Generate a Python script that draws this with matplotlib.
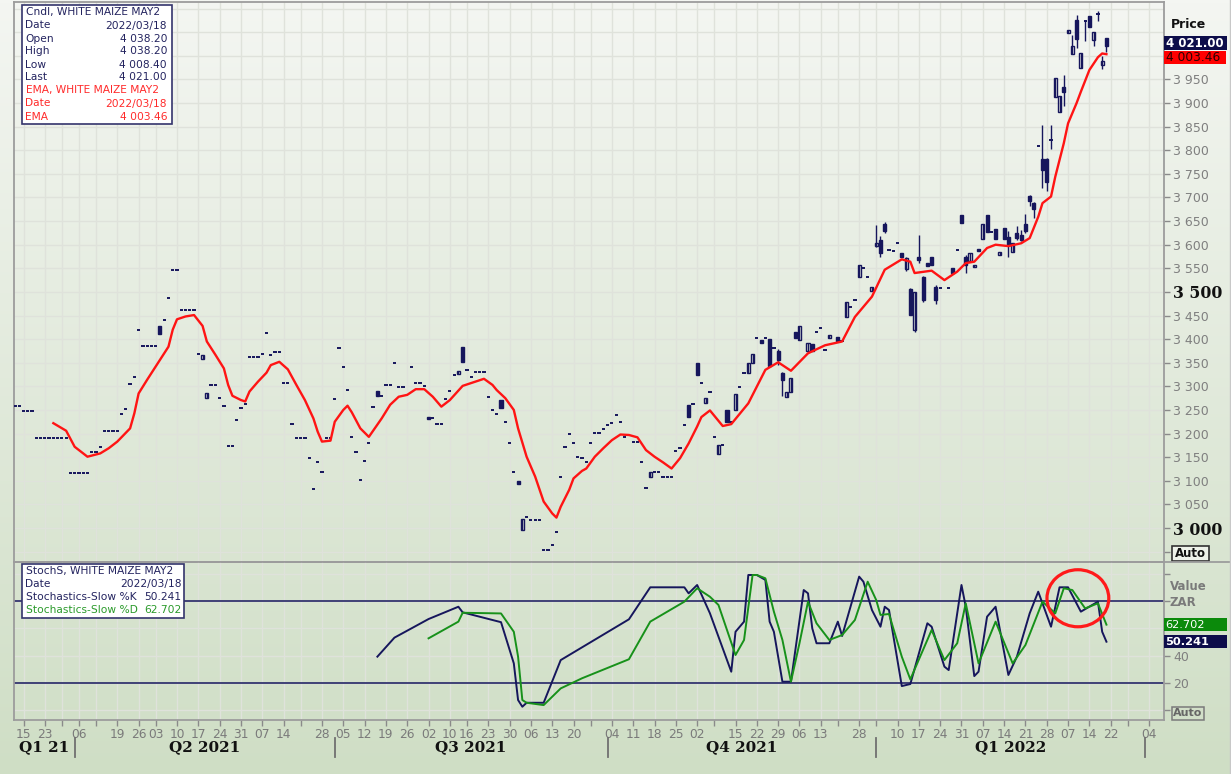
import numpy as np
import pandas as pd
import matplotlib
matplotlib.use("Agg")
import matplotlib.pyplot as plt
from matplotlib.patches import Rectangle, Ellipse
from matplotlib.transforms import blended_transform_factory

# --- calendar (SAFEX trading days, day 0 = first day on chart) ---
first_day = "2021-03-11"
holidays = ["2021-03-22", "2021-04-02", "2021-04-05", "2021-04-27", "2021-06-16",
            "2021-08-09", "2021-09-24", "2021-11-01", "2021-12-16", "2021-12-27",
            "2022-03-21", "2022-04-15", "2022-04-18"]
unlabelled_weeks = ["2021-03-29", "2021-04-12", "2021-06-21", "2021-09-27",
                    "2021-11-08", "2021-12-20", "2022-01-03", "2022-03-28"]
quarter_names = ["Q1 21", "Q2 2021", "Q3 2021", "Q4 2021", "Q1 2022"]

# --- no-range days (open = high = low = close) ---
dash_day = [0, 1, 2, 3, 4, 5, 6, 7, 8, 9, 10, 11, 12, 13, 14, 15, 16, 17, 18, 19,
            20, 21, 22, 23, 24, 25, 26, 27, 28, 29, 30, 31, 32, 33, 35, 36, 37, 38,
            39, 40, 41, 42, 43, 46, 47, 48, 49, 50, 51, 52, 53, 54, 55, 56, 57, 58,
            59, 60, 61, 62, 63, 64, 65, 66, 67, 68, 69, 70, 71, 72, 73, 74, 75, 76,
            77, 78, 79, 80, 81, 82, 83, 84, 86, 87, 88, 89, 90, 91, 93, 94, 95, 96,
            98, 99, 100, 101, 102, 103, 106, 107, 108, 109, 110, 111, 112, 113, 115,
            116, 117, 120, 121, 122, 123, 124, 125, 126, 127, 128, 129, 130, 131, 132,
            133, 134, 135, 136, 137, 138, 139, 140, 141, 142, 143, 145, 146, 147, 148,
            150, 151, 152, 153, 154, 155, 156, 157, 159, 161, 163, 164, 166, 168, 170,
            171, 174, 176, 178, 188, 189, 190, 194, 196, 197, 199, 200, 205, 206, 207,
            217, 219, 221, 229, 240]
dash_px = [3258, 3258, 3248, 3248, 3248, 3191, 3191, 3191, 3191, 3191, 3191, 3191, 3191,
           3117, 3117, 3117, 3117, 3117, 3162, 3162, 3172, 3206, 3206, 3206, 3206, 3242,
           3252, 3304, 3320, 3419, 3386, 3386, 3386, 3386, 3441, 3487, 3547, 3547, 3461,
           3461, 3461, 3461, 3368, 3303, 3303, 3276, 3259, 3174, 3174, 3229, 3255, 3263,
           3362, 3362, 3362, 3368, 3412, 3367, 3372, 3372, 3307, 3307, 3220, 3190, 3190,
           3190, 3148, 3083, 3139, 3119, 3190, 3190, 3273, 3382, 3342, 3292, 3193, 3162,
           3102, 3142, 3179, 3257, 3280, 3303, 3303, 3349, 3298, 3298, 3340, 3308, 3308,
           3301, 3234, 3220, 3220, 3273, 3290, 3324, 3335, 3319, 3330, 3330, 3330, 3278,
           3250, 3242, 3225, 3179, 3118, 3024, 3018, 3018, 3018, 2953, 2953, 2964, 2991,
           3107, 3171, 3200, 3179, 3151, 3148, 3139, 3181, 3202, 3202, 3209, 3218, 3223,
           3239, 3225, 3193, 3182, 3182, 3139, 3085, 3118, 3118, 3107, 3107, 3107, 3163,
           3170, 3218, 3263, 3308, 3289, 3192, 3176, 3225, 3298, 3329, 3402, 3403, 3381,
           3416, 3424, 3377, 3395, 3467, 3483, 3550, 3531, 3589, 3587, 3603, 3508, 3508,
           3589, 3626, 3808]

# --- candles ---
cdl_day = [34, 44, 45, 85, 97, 104, 105, 114, 118, 119, 149, 158, 160, 162, 165, 167,
           169, 172, 173, 175, 177, 179, 180, 181, 182, 183, 184, 186, 187, 191, 193,
           195, 198, 201, 202, 203, 204, 208, 209, 210, 211, 212, 213, 214, 215, 216,
           220, 222, 223, 224, 225, 226, 227, 228, 230, 231, 232, 233, 234, 235, 236,
           237, 238, 239, 241, 242, 243, 244, 245, 246, 247, 248, 249, 250, 251, 252,
           253, 254, 255, 256]
cdl_open = [3427, 3358, 3275, 3290, 3236, 3326, 3383, 3271, 3099, 2996, 3107, 3261, 3349,
            3264, 3156, 3249, 3249, 3328, 3349, 3398, 3400, 3374, 3328, 3277, 3287, 3416,
            3398, 3374, 3390, 3403, 3405, 3447, 3531, 3501, 3598, 3611, 3644, 3582, 3548,
            3506, 3419, 3574, 3531, 3561, 3573, 3510, 3550, 3663, 3575, 3565, 3552, 3590,
            3613, 3663, 3633, 3578, 3635, 3616, 3585, 3625, 3621, 3644, 3703, 3688, 3781,
            3781, 3822, 3912, 3881, 3935, 4048, 4004, 4075, 3974, 4073, 4084, 4034, 4089,
            3980, 4038.20]
cdl_high = [3427, 3366, 3285, 3290, 3236, 3332, 3383, 3271, 3099, 3020, 3119, 3261, 3349,
            3275, 3176, 3249, 3284, 3349, 3368, 3398, 3400, 3380, 3330, 3289, 3317, 3416,
            3427, 3391, 3390, 3409, 3405, 3479, 3557, 3511, 3642, 3618, 3648, 3582, 3575,
            3508, 3500, 3621, 3533, 3561, 3573, 3515, 3550, 3663, 3578, 3582, 3557, 3590,
            3644, 3663, 3633, 3585, 3635, 3630, 3603, 3640, 3632, 3665, 3705, 3691, 3854,
            3783, 3854, 3953, 3914, 3960, 4054, 4045, 4087, 4007, 4075, 4084, 4050, 4094,
            3999, 4038.20]
cdl_low = [3411, 3358, 3275, 3280, 3230, 3326, 3352, 3254, 3094, 2996, 3107, 3235, 3324,
           3264, 3156, 3225, 3249, 3328, 3349, 3392, 3344, 3346, 3280, 3277, 3287, 3403,
           3398, 3374, 3374, 3403, 3396, 3447, 3531, 3501, 3596, 3575, 3625, 3575, 3545,
           3451, 3415, 3561, 3478, 3554, 3557, 3475, 3541, 3647, 3540, 3565, 3552, 3586,
           3613, 3626, 3613, 3578, 3613, 3575, 3585, 3610, 3608, 3625, 3683, 3657, 3720,
           3713, 3802, 3912, 3881, 3893, 4048, 4004, 4016, 3974, 4031, 4062, 4020, 4073,
           3972, 4008.40]
cdl_close = [3411, 3366, 3285, 3280, 3230, 3332, 3352, 3254, 3094, 3020, 3119, 3235, 3324,
             3275, 3176, 3225, 3284, 3349, 3368, 3392, 3344, 3356, 3314, 3289, 3317, 3403,
             3427, 3391, 3374, 3409, 3396, 3479, 3557, 3511, 3604, 3582, 3628, 3575, 3571,
             3451, 3500, 3568, 3483, 3554, 3557, 3483, 3541, 3647, 3557, 3582, 3557, 3586,
             3644, 3626, 3613, 3585, 3613, 3600, 3603, 3614, 3610, 3630, 3693, 3676, 3759,
             3732, 3822, 3953, 3914, 3923, 4054, 4020, 4035, 4007, 4073, 4062, 4050, 4089,
             3990, 4021.00]

# --- EMA ---
ema_day = [9, 12, 14, 17, 20, 22, 24, 27, 28, 29, 31, 33, 36, 37, 38, 40, 42, 44, 45, 47,
           49, 50, 51, 53, 54, 55, 57, 59, 60, 62, 64, 66, 68, 70, 71, 72, 74, 75, 77, 78,
           79, 81, 83, 86, 88, 90, 92, 94, 96, 98, 100, 102, 105, 108, 110, 112, 113, 115,
           117, 118, 120, 122, 124, 126, 127, 128, 130, 131, 133, 134, 136, 138, 140, 142,
           144, 146, 148, 150, 152, 154, 156, 158, 160, 161, 163, 165, 166, 168, 172, 176,
           179, 182, 186, 190, 194, 197, 201, 204, 208, 210, 211, 215, 218, 221, 223, 225,
           228, 230, 233, 236, 238, 240, 241, 243, 244, 246, 247, 249, 250, 252, 254, 255,
           256]
ema_val = [3222, 3206, 3172, 3151, 3158, 3169, 3183, 3211, 3243, 3285, 3314, 3342, 3384,
           3420, 3442, 3448, 3451, 3428, 3395, 3367, 3338, 3303, 3280, 3271, 3268, 3289,
           3310, 3329, 3345, 3352, 3336, 3303, 3271, 3232, 3204, 3183, 3185, 3225, 3250,
           3259, 3245, 3211, 3193, 3232, 3261, 3278, 3282, 3294, 3294, 3278, 3257, 3271,
           3301, 3310, 3316, 3303, 3292, 3275, 3250, 3211, 3151, 3109, 3056, 3031, 3022,
           3045, 3081, 3105, 3121, 3126, 3151, 3169, 3186, 3198, 3197, 3192, 3165, 3151,
           3139, 3126, 3148, 3179, 3215, 3235, 3249, 3227, 3216, 3220, 3264, 3335, 3351,
           3333, 3370, 3387, 3395, 3447, 3490, 3547, 3569, 3564, 3540, 3545, 3525, 3543,
           3561, 3564, 3593, 3600, 3597, 3603, 3614, 3659, 3688, 3702, 3744, 3815, 3857,
           3900, 3924, 3970, 3997, 4005, 4003.46]

# --- Stochastics-Slow ---
k_day = [85, 89, 92, 97, 104, 105, 114, 117, 118, 119, 120, 124, 128, 144, 149, 157, 158,
         160, 163, 168, 169, 171, 172, 174, 176, 177, 178, 180, 182, 185, 186, 187, 188,
         191, 193, 194, 198, 199, 201, 203, 204, 205, 208, 210, 214, 215, 218, 219, 222,
         223, 225, 226, 228, 230, 233, 235, 238, 240, 243, 245, 247, 250, 254, 255, 256]
k_val = [39.3, 53.2, 58.3, 66.8, 75.8, 71.7, 64.5, 34.4, 7.6, 2.7, 5.6, 5.6, 36.8, 66.6,
         90.0, 90.0, 85.6, 91.7, 71.0, 28.3, 57.5, 64.9, 99.0, 99.0, 95.4, 64.9, 57.5,
         21.0, 21.0, 88.0, 85.6, 60.0, 49.1, 49.1, 64.9, 54.4, 97.8, 94.1, 73.4, 61.2,
         75.8, 73.4, 17.8, 19.3, 63.7, 61.2, 32.0, 29.5, 91.7, 75.8, 25.1, 28.3, 68.5,
         75.8, 25.9, 39.3, 71.0, 86.8, 61.2, 90.0, 90.0, 72.2, 79.5, 57.5, 50.241]
d_day = [97, 104, 105, 114, 117, 118, 119, 120, 124, 128, 133, 144, 149, 157, 160,
         163, 165, 169, 171, 173, 174, 176, 178, 180, 182, 184, 186, 188, 191, 194, 197,
         200, 202, 203, 205, 208, 210, 215, 218, 221, 223, 226, 230, 234, 237, 241, 244,
         246, 248, 251, 254, 256]
d_val = [52.7, 64.9, 71.4, 70.9, 57.5, 39.3, 7.6, 5.6, 3.9, 16.1, 23.5, 37.4, 64.9,
         79.5, 89.3, 83.1, 77.1, 40.5, 51.5, 99.0, 99.0, 96.6, 72.2, 51.5, 21.0, 49.1,
         79.5, 63.7, 51.5, 55.1, 66.1, 94.1, 80.7, 69.8, 70.5, 39.3, 22.7, 58.8, 36.8,
         49.1, 78.3, 34.4, 64.9, 34.4, 47.8, 79.5, 71.0, 89.3, 88.0, 74.6, 78.3, 62.702]

# --- styles ---
NAVY = "#16165c"
RED = "#ff1414"
GREEN = "#17911a"
GRID = "#dfe2db"
W, H = 1231, 774
XMIN, XMAX = -0.23, 269.5


def thou(v, dec=2):
    return f"{v:,.{dec}f}".replace(",", " ")


days = pd.bdate_range(first_day, "2022-04-29", freq="C", holidays=holidays)
wd = days.weekday
week_idx = [i for i in range(1, len(days)) if wd[i] <= wd[i - 1]]
week_lab = ["" if days[i].strftime("%Y-%m-%d") in unlabelled_weeks else days[i].strftime("%d")
            for i in week_idx]
q_idx = [i for i in range(1, len(days))
         if days[i].month != days[i - 1].month and days[i].month in (1, 4, 7, 10)]

fig = plt.figure(figsize=(W / 100, H / 100), dpi=100)

# background gradient
bg = fig.add_axes([0, 0, 1, 1])
bg.set_zorder(0)
c_top = np.array([244, 246, 242]) / 255
c_bot = np.array([207, 222, 197]) / 255
t = np.linspace(0, 1, 256)[:, None]
grad = c_top + (c_bot - c_top) * t
bg.imshow(grad[:, None, :], aspect="auto", extent=[0, 1, 0, 1])
bg.axis("off")

ax_p = fig.add_axes([14 / W, 1 - 562 / H, 1150 / W, 560 / H])
ax_s = fig.add_axes([14 / W, 1 - 720 / H, 1150 / W, 158 / H], sharex=ax_p)
for ax in (ax_p, ax_s):
    ax.set_zorder(1)
    ax.set_facecolor("none")
    ax.set_axisbelow(True)
    for sp in ax.spines.values():
        sp.set_color("#9c9c9c")
        sp.set_linewidth(1.3)

# --- price panel ---
dd = np.array(dash_day)
ax_p.hlines(dash_px, dd - 0.38, dd + 0.38, color=NAVY, lw=1.4, zorder=3)

o = np.array(cdl_open, float)
hi = np.array(cdl_high, float)
lo = np.array(cdl_low, float)
cl = np.array(cdl_close, float)
cd = np.array(cdl_day, float)
ax_p.vlines(cd, lo, hi, color=NAVY, lw=1, zorder=3)
doji = np.abs(cl - o) < 1
ax_p.hlines(cl[doji], cd[doji] - 0.38, cd[doji] + 0.38, color=NAVY, lw=1.4, zorder=4)
body_h = np.maximum(np.abs(cl - o), 3)
body_lo = np.minimum(o, cl) - (body_h - np.abs(cl - o)) / 2
up = (cl > o) & ~doji
dn = (cl < o) & ~doji
ax_p.bar(cd[up], body_h[up], bottom=body_lo[up], width=0.72, facecolor="none",
         edgecolor=NAVY, lw=1, zorder=4)
ax_p.bar(cd[dn], body_h[dn], bottom=body_lo[dn], width=0.72, facecolor=NAVY,
         edgecolor=NAVY, lw=1, zorder=4)

ax_p.plot(ema_day, ema_val, color=RED, lw=1.7, zorder=5)

ptk = np.arange(2950, 4001, 50)
ax_p.yaxis.tick_right()
ax_p.set_yticks(ptk)
ax_p.set_yticklabels([thou(v, 0) if 3000 <= v <= 3950 else "" for v in ptk])
ax_p.tick_params(axis="y", direction="out", length=4, width=1, color="#8a8a8a",
                 labelcolor="#7f7f7f", labelsize=9, pad=2.5)
for lab, v in zip(ax_p.get_yticklabels(), ptk):
    if v in (3000, 3500):
        lab.set_fontfamily("DejaVu Serif")
        lab.set_fontweight("bold")
        lab.set_fontsize(11.3)
        lab.set_color("#111111")
ax_p.tick_params(axis="x", length=0, labelbottom=False)
ax_p.grid(True, color=GRID, lw=1)
for v in (4050, 4100):
    ax_p.axhline(v, color=GRID, lw=1, zorder=0.5)

# --- stochastics panel ---
ax_s.plot(k_day, k_val, color=NAVY, lw=1.4, zorder=4)
ax_s.plot(d_day, d_val, color=GREEN, lw=1.4, zorder=4)
ax_s.axhline(80, color=NAVY, lw=1.1, zorder=2)
ax_s.axhline(20, color=NAVY, lw=1.1, zorder=2)
ax_s.add_patch(Ellipse((249.3, 82), 14.5, 41.7, fill=False, ec="#ff1a1a", lw=2.3,
                       zorder=6, clip_on=False))
ax_s.yaxis.tick_right()
ax_s.set_yticks([0, 20, 40, 60, 80, 100])
ax_s.set_yticklabels(["", "20", "40", "", "", ""])
ax_s.tick_params(axis="y", direction="out", length=4, width=1, color="#8a8a8a",
                 labelcolor="#7f7f7f", labelsize=9, pad=2.5)
ax_s.set_xticks(week_idx)
ax_s.set_xticklabels(week_lab)
ax_s.tick_params(axis="x", direction="out", length=4, width=1, color="#8a8a8a",
                 labelcolor="#7a7a7a", labelsize=8.8, pad=2)
ax_s.grid(True, color=GRID, lw=1)

tr = blended_transform_factory(ax_s.transData, ax_s.transAxes)
for q in q_idx:
    ax_s.plot([q, q], [-0.114, -0.234], transform=tr, clip_on=False, color="#707070", lw=1.3)
bounds = [XMIN] + q_idx
for k, name in enumerate(quarter_names):
    xm = (bounds[k] + bounds[k + 1]) / 2
    ax_s.text(xm, -0.171, name, transform=tr, ha="center", va="center",
              fontfamily="DejaVu Serif", fontweight="bold", fontsize=11, color="#111111")

ax_p.set_xlim(XMIN, XMAX)
ax_p.set_ylim(2928, 4114)
ax_s.set_ylim(-7, 108.5)

# --- overlay: info boxes, value badges, axis captions ---
ov = fig.add_axes([0, 0, 1, 1])
ov.set_zorder(5)
ov.set_xlim(0, W)
ov.set_ylim(H, 0)
ov.axis("off")


def ypix(ax, v):
    return H - ax.transData.transform((0, v))[1]


def info_box(x0, y0, x1, y1, xr, rows):
    ov.add_patch(Rectangle((x0, y0), x1 - x0, y1 - y0, facecolor="white",
                           edgecolor="#34346c", lw=1.2))
    for i, (left, right, col) in enumerate(rows):
        yy = y0 + 7.5 + 13 * i
        ov.text(x0 + 3.5, yy, left, color=col, fontsize=7.7, va="center")
        ov.text(xr, yy, right, color=col, fontsize=7.7, va="center", ha="right")


TXT = "#23235f"
LRED = "#ff2a2a"
info_box(22, 5, 172, 124, 167, [
    ("Cndl, WHITE MAIZE MAY2", "", TXT),
    ("Date", "2022/03/18", TXT),
    ("Open", thou(cdl_open[-1]), TXT),
    ("High", thou(cdl_high[-1]), TXT),
    ("Low", thou(cdl_low[-1]), TXT),
    ("Last", thou(cdl_close[-1]), TXT),
    ("EMA, WHITE MAIZE MAY2", "", LRED),
    ("Date", "2022/03/18", LRED),
    ("EMA", thou(ema_val[-1]), LRED),
])
info_box(22, 563.5, 184, 617.5, 181.5, [
    ("StochS, WHITE MAIZE MAY2", "", TXT),
    ("Date", "2022/03/18", TXT),
    ("Stochastics-Slow %K", f"{k_val[-1]:.3f}", TXT),
    ("Stochastics-Slow %D", f"{d_val[-1]:.3f}", "#2a9a2a"),
])

# price badges
yc = ypix(ax_p, cdl_close[-1]) - 2.5
ov.add_patch(Rectangle((1164, yc - 7), 63, 14, facecolor="#0d0d4a", edgecolor="none"))
ov.text(1165.5, yc, thou(cdl_close[-1]), color="white", fontsize=8.5, fontweight="bold",
        va="center")
ye = yc + 8
ov.add_patch(Rectangle((1164, ye), 62, 13, facecolor="#ff0000", edgecolor="none"))
ov.text(1165.5, ye + 6.5, thou(ema_val[-1]), color="#2a0000", fontsize=8.8, va="center")

# stochastic badges
yg = ypix(ax_s, d_val[-1])
ov.add_patch(Rectangle((1164, yg - 6.2), 63, 12.4, facecolor="#0b8a0b", edgecolor="none"))
ov.text(1165.5, yg, f"{d_val[-1]:.3f}", color="white", fontsize=8.2, va="center")
yk = ypix(ax_s, k_val[-1])
ov.add_patch(Rectangle((1164, yk - 6.2), 63, 12.4, facecolor="#0d0d4a", edgecolor="none"))
ov.text(1165.5, yk, f"{k_val[-1]:.3f}", color="white", fontsize=8.2, fontweight="bold",
        va="center")

ov.text(1171, 25, "Price", fontsize=9, fontweight="bold", color="#111111", va="center")
ov.text(1170, 587, "Value", fontsize=8.5, fontweight="bold", color="#7a7a7a", va="center")
ov.text(1170, 602, "ZAR", fontsize=8.5, fontweight="bold", color="#7a7a7a", va="center")

ov.add_patch(Rectangle((1172, 546), 37, 15, facecolor="#eef2ea", edgecolor="#333333", lw=1.2))
ov.text(1190.5, 553.5, "Auto", fontsize=8.5, fontweight="bold", color="#111111",
        ha="center", va="center")
ov.add_patch(Rectangle((1172, 707), 32, 13, facecolor="none", edgecolor="#7a7a7a", lw=1.1))
ov.text(1188, 713.5, "Auto", fontsize=8, fontweight="bold", color="#666666",
        ha="center", va="center")

ov.plot([1164, W], [562, 562], color="#9c9c9c", lw=1.3)
ov.plot([1229.5, 1229.5], [0, H], color="#c8c8c8", lw=1)

fig.savefig("out.png", dpi=100)
